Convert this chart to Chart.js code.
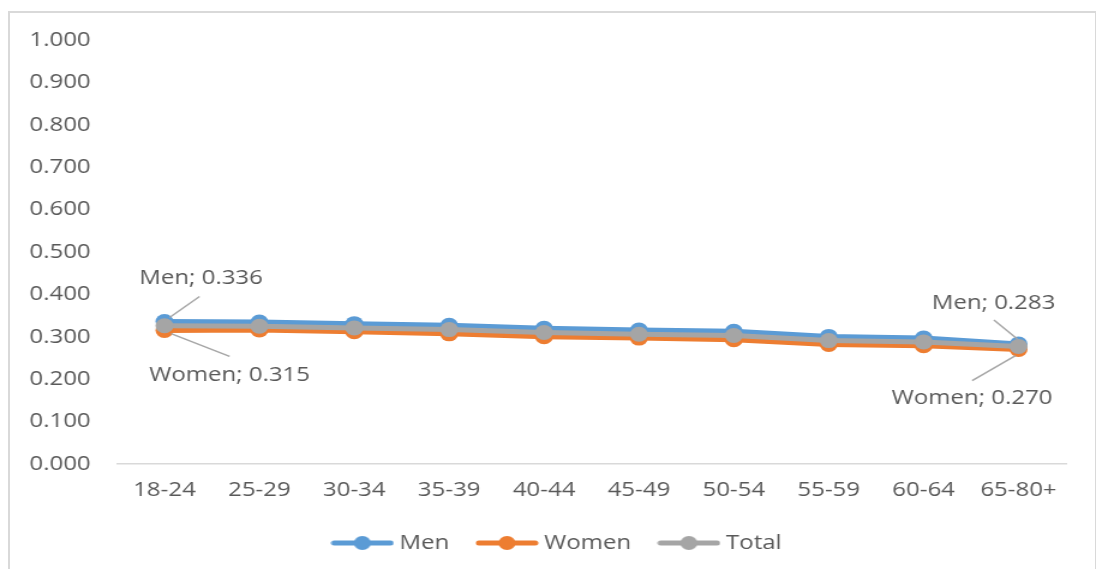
<!DOCTYPE html>
<html>
<head>
<meta charset="utf-8">
<script src="https://cdn.jsdelivr.net/npm/chart.js@4.4.1/dist/chart.umd.min.js"></script>
<style>
  html, body { margin: 0; padding: 0; background: #fff; overflow: hidden; }
  #frame {
    position: absolute; left: 8px; top: 11px; width: 1089px; height: 600px;
    border: 2px solid #d9d9d9; box-sizing: border-box;
  }
  /* the chart is laid out 913px wide and widened to the full 1096px page */
  #stage {
    position: absolute; left: 0; top: 0; width: 913px; height: 569px;
    transform: scaleX(1.2004); transform-origin: 0 0;
  }
</style>
</head>
<body>
<div id="frame"></div>
<div id="stage"><canvas id="c"></canvas></div>
<script>
// Age groups on the horizontal axis
const ageGroups = ['18-24', '25-29', '30-34', '35-39', '40-44', '45-49', '50-54', '55-59', '60-64', '65-80+'];

// Series values per age group
const men   = [0.336, 0.335, 0.331, 0.327, 0.320, 0.316, 0.313, 0.301, 0.297, 0.283];
const women = [0.315, 0.316, 0.312, 0.307, 0.300, 0.297, 0.293, 0.282, 0.279, 0.270];
const total = [0.326, 0.325, 0.321, 0.317, 0.310, 0.306, 0.303, 0.291, 0.288, 0.277];

// Value axis range
const yMin = 0, yMax = 1, yStep = 0.1;

const BLUE = '#5b9bd5', ORANGE = '#ed7d31', GREY = '#a5a5a5';
const TEXT = '#595959';
const FONT = '"Open Sans", "Noto Sans", sans-serif';

Chart.defaults.font.family = FONT;
Chart.defaults.font.size = 20;
Chart.defaults.color = TEXT;

// Callout labels: which point, where the text sits and where its leader line runs
const callouts = [
  { ds: 0, idx: 0,  name: 'Men',   text: [30.5, -43], line: [[29.2, -25], [4.2, -4]] },
  { ds: 1, idx: 0,  name: 'Women', text: [54.2, 45],  line: [[54.2, 26],  [5.5, 3.2]] },
  { ds: 0, idx: 9,  name: 'Men',   text: [-20.8, -41], line: [[-20.5, -24], [-1, -5]] },
  { ds: 1, idx: 9,  name: 'Women', text: [-38.7, 49], line: [[-38.6, 31], [-2.5, 6]] }
];

const calloutPlugin = {
  id: 'callouts',
  afterDatasetsDraw(chart) {
    const ctx = chart.ctx;
    ctx.save();
    callouts.forEach(c => {
      const pt = chart.getDatasetMeta(c.ds).data[c.idx];
      const value = chart.data.datasets[c.ds].data[c.idx];
      ctx.strokeStyle = '#a6a6a6';
      ctx.lineWidth = 1.5;
      ctx.beginPath();
      ctx.moveTo(pt.x + c.line[0][0], pt.y + c.line[0][1]);
      ctx.lineTo(pt.x + c.line[1][0], pt.y + c.line[1][1]);
      ctx.stroke();
      ctx.fillStyle = TEXT;
      ctx.font = '20px ' + FONT;
      ctx.textAlign = 'center';
      ctx.textBaseline = 'middle';
      ctx.fillText(c.name + '; ' + value.toFixed(3), pt.x + c.text[0], pt.y + c.text[1]);
    });
    ctx.restore();
  }
};

// Nudge the legend row a little to the right of the canvas centre
const legendShift = {
  id: 'legendShift',
  afterLayout(chart) {
    const lg = chart.legend;
    if (lg) { lg.left += 22; lg.right += 22; }
  }
};

// Legend swatch: a short thick line with a dot in the middle
function swatch(color) {
  const cv = document.createElement('canvas');
  cv.width = 53; cv.height = 16;
  const g = cv.getContext('2d');
  g.strokeStyle = color; g.lineWidth = 5; g.lineCap = 'round';
  g.beginPath(); g.moveTo(3, 8); g.lineTo(50, 8); g.stroke();
  g.fillStyle = color;
  g.beginPath(); g.arc(26.5, 8, 7, 0, Math.PI * 2); g.fill();
  return cv;
}

function series(label, data, color, order) {
  return {
    label, data, order,
    borderColor: color, backgroundColor: color,
    borderWidth: 5,
    pointRadius: 7.5, pointHoverRadius: 7.5,
    pointBorderWidth: 0,
    pointBackgroundColor: color,
    tension: 0
  };
}

new Chart(document.getElementById('c'), {
  type: 'line',
  data: {
    labels: ageGroups,
    datasets: [
      series('Men', men, BLUE, 1),
      series('Women', women, ORANGE, 2),
      series('Total', total, GREY, 0)
    ]
  },
  options: {
    responsive: true,
    maintainAspectRatio: false,
    animation: false,
    events: [],
    layout: { padding: { top: 40, right: 25, bottom: 6, left: 0 } },
    scales: {
      x: {
        offset: true,
        grid: { display: false, drawTicks: false },
        border: { display: true, color: '#d9d9d9', width: 1.5 },
        ticks: { padding: 14, color: TEXT, font: { size: 20 } },
        afterFit(scale) { scale.height = 42; }
      },
      y: {
        min: yMin, max: yMax,
        grid: { display: false, drawTicks: false },
        border: { display: false },
        ticks: {
          stepSize: yStep, padding: 22, color: TEXT, font: { size: 20 },
          callback: v => Number(v).toFixed(3)
        },
        afterFit(scale) { scale.width = 97.5; }
      }
    },
    plugins: {
      tooltip: { enabled: false },
      legend: {
        position: 'bottom',
        labels: {
          usePointStyle: true,
          pointStyleWidth: 42,
          padding: 27,
          color: TEXT,
          font: { size: 20 },
          generateLabels(chart) {
            return chart.data.datasets.map((d, i) => ({
              text: d.label,
              pointStyle: swatch(d.borderColor),
              fillStyle: d.borderColor,
              strokeStyle: d.borderColor,
              lineWidth: 0,
              fontColor: TEXT,
              hidden: false,
              datasetIndex: i
            }));
          }
        }
      }
    }
  },
  plugins: [calloutPlugin, legendShift]
});
</script>
</body>
</html>
